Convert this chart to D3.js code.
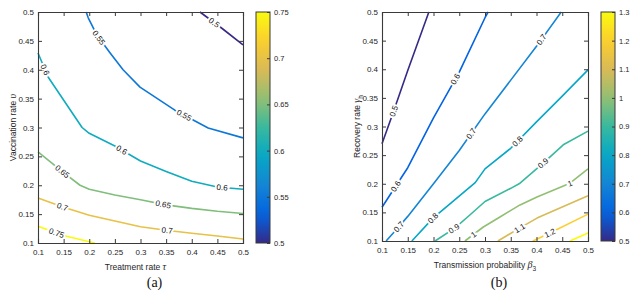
<!DOCTYPE html>
<html>
<head>
<meta charset="utf-8">
<script src="https://cdn.jsdelivr.net/npm/d3@7"></script>
<style>
  body { margin: 0; background: #fff; }
  svg text { font-family: Arial, "Liberation Sans", sans-serif; fill: #262626; }
</style>
</head>
<body>
<svg id="fig" width="637" height="295"></svg>
<script>
// ---------- data ----------
let axisTicks = [0.1, 0.15, 0.2, 0.25, 0.3, 0.35, 0.4, 0.45, 0.5]

// panel (a): treatment rate tau (x) vs vaccination rate v (y)
let leftLevels = [0.5, 0.55, 0.6, 0.65, 0.7, 0.75]
let leftBarTicks = [0.5, 0.55, 0.6, 0.65, 0.7, 0.75]
let leftLines = [
  [[0.416, 0.5], [0.46, 0.471], [0.5, 0.443]],
  [[0.194, 0.5], [0.198, 0.49], [0.215, 0.46], [0.24, 0.43], [0.266, 0.4], [0.299, 0.37], [0.367, 0.33], [0.432, 0.299], [0.5, 0.282]],
  [[0.1, 0.429], [0.12, 0.387], [0.186, 0.3], [0.2, 0.29], [0.25, 0.268], [0.3, 0.242], [0.35, 0.224], [0.4, 0.207], [0.45, 0.197], [0.5, 0.193]],
  [[0.1, 0.258], [0.15, 0.222], [0.182, 0.2], [0.2, 0.193], [0.25, 0.183], [0.3, 0.175], [0.35, 0.166], [0.4, 0.16], [0.45, 0.155], [0.5, 0.151]],
  [[0.1, 0.178], [0.15, 0.162], [0.2, 0.148], [0.25, 0.138], [0.3, 0.128], [0.35, 0.122], [0.4, 0.117], [0.45, 0.112], [0.5, 0.107]],
  [[0.1, 0.129], [0.15, 0.113], [0.2, 0.102], [0.211, 0.1]]
]
let leftLabels = [
  [[0.4415, 0.479]],
  [[0.221, 0.457], [0.383, 0.318]],
  [[0.108, 0.398], [0.264, 0.262], [0.459, 0.195]],
  [[0.147, 0.223], [0.344, 0.166]],
  [[0.147, 0.161], [0.352, 0.121]],
  [[0.137, 0.119]]
]

// panel (b): transmission probability beta3 (x) vs recovery rate gamma_h (y)
let rightLevels = [0.5, 0.6, 0.7, 0.8, 0.9, 1, 1.1, 1.2, 1.3]
let rightBarTicks = [0.5, 0.6, 0.7, 0.8, 0.9, 1, 1.1, 1.2, 1.3]
let rightLines = [
  [[0.1, 0.27], [0.12, 0.32], [0.15, 0.398], [0.191, 0.5]],
  [[0.1, 0.159], [0.15, 0.228], [0.2, 0.315], [0.25, 0.395], [0.3, 0.49], [0.306, 0.5]],
  [[0.108, 0.1], [0.131, 0.123], [0.15, 0.143], [0.2, 0.2], [0.25, 0.258], [0.3, 0.322], [0.35, 0.381], [0.4, 0.44], [0.448, 0.5]],
  [[0.158, 0.1], [0.199, 0.14], [0.236, 0.168], [0.281, 0.202], [0.3, 0.226], [0.35, 0.262], [0.4, 0.308], [0.45, 0.353], [0.5, 0.399]],
  [[0.203, 0.1], [0.242, 0.123], [0.27, 0.145], [0.3, 0.169], [0.35, 0.192], [0.368, 0.201], [0.413, 0.236], [0.452, 0.268], [0.5, 0.292]],
  [[0.261, 0.1], [0.296, 0.124], [0.329, 0.142], [0.368, 0.163], [0.401, 0.177], [0.465, 0.201], [0.5, 0.226]],
  [[0.325, 0.1], [0.368, 0.123], [0.401, 0.14], [0.5, 0.179]],
  [[0.393, 0.1], [0.426, 0.114], [0.5, 0.147]],
  [[0.465, 0.1], [0.5, 0.114]]
]
let rightLabels = [
  [[0.129, 0.325]],
  [[0.131, 0.193], [0.246, 0.381]],
  [[0.135, 0.123], [0.277, 0.285], [0.411, 0.451]],
  [[0.199, 0.14], [0.364, 0.273]],
  [[0.238, 0.124], [0.413, 0.236]],
  [[0.279, 0.11], [0.465, 0.201]],
  [[0.368, 0.121]],
  [[0.426, 0.114]],
  []
]

// parula-like colour map
let parulaStops = [0, 0.125, 0.25, 0.375, 0.5, 0.625, 0.75, 0.875, 1]
let parulaColors = ['#352a87', '#0363e1', '#1485d4', '#06a7c6', '#38b99e', '#92bf73', '#d9ba56', '#fcce2e', '#f9fb0e']
let parula = d3.scaleLinear().domain(parulaStops).range(parulaColors).interpolate(d3.interpolateRgb)

let svg = d3.select('#fig')
let defs = svg.append('defs')
let fmt = (d) => String(+d.toFixed(2))
let serif = '"Liberation Serif", "DejaVu Serif", serif'

// writes a title made of plain / italic / subscript parts
let richText = (sel, parts) => {
  parts.forEach((p) => {
    let t = sel.append('tspan').text(p.t)
    if (p.italic) t.style('font-family', serif).style('font-style', 'italic').style('font-size', '10px')
    if (p.sub) t.style('font-size', '6.5px').attr('dy', 3)
  })
}

let drawPanel = (cfg) => {
  let g = svg.append('g')
  let xScale = d3.scaleLinear().domain([0.1, 0.5]).range([cfg.left, cfg.right])
  let yScale = d3.scaleLinear().domain([0.1, 0.5]).range([cfg.bottom, cfg.top])
  let cScale = (v) => parula((v - cfg.cMin) / (cfg.cMax - cfg.cMin))

  // contour lines
  let line = d3.line().x((d) => xScale(d[0])).y((d) => yScale(d[1]))
  g.append('g').selectAll('path')
    .data(cfg.lines)
    .enter()
    .append('path')
    .attr('d', line)
    .attr('fill', 'none')
    .attr('stroke', (d, i) => cScale(cfg.levels[i]))
    .attr('stroke-width', 1.6)
    .attr('stroke-linejoin', 'round')

  // inline contour labels, rotated along the line
  let labelData = []
  cfg.labels.forEach((pts, i) => {
    let poly = cfg.lines[i].map((d) => [xScale(d[0]), yScale(d[1])])
    pts.forEach((p) => {
      let px = xScale(p[0]), py = yScale(p[1])
      let best = null
      for (let k = 0; k < poly.length - 1; k++) {
        let [ax, ay] = poly[k], [bx, by] = poly[k + 1]
        let dx = bx - ax, dy = by - ay
        let t = Math.max(0, Math.min(1, ((px - ax) * dx + (py - ay) * dy) / (dx * dx + dy * dy)))
        let qx = ax + t * dx, qy = ay + t * dy
        let dist = Math.hypot(px - qx, py - qy)
        if (!best || dist < best.dist) best = { dist, x: qx, y: qy, ang: Math.atan2(dy, dx) * 180 / Math.PI }
      }
      let ang = best.ang
      if (ang > 90) ang -= 180
      if (ang < -90) ang += 180
      labelData.push({ x: best.x, y: best.y, ang, text: fmt(cfg.levels[i]) })
    })
  })
  g.append('g').selectAll('text')
    .data(labelData)
    .enter()
    .append('text')
    .attr('transform', (d) => 'translate(' + d.x + ',' + d.y + ') rotate(' + d.ang + ')')
    .attr('text-anchor', 'middle')
    .attr('dy', '0.35em')
    .attr('font-size', '8px')
    .attr('stroke', '#fff')
    .attr('stroke-width', 4)
    .attr('paint-order', 'stroke')
    .style('fill', '#111')
    .text((d) => d.text)

  // axes with inward ticks on all four sides
  let xAxis = d3.axisBottom(xScale).tickValues(axisTicks).tickFormat(fmt).tickSize(-4).tickPadding(6)
  let yAxis = d3.axisLeft(yScale).tickValues(axisTicks).tickFormat(fmt).tickSize(-4).tickPadding(4)
  let gx = g.append('g').attr('transform', 'translate(0,' + cfg.bottom + ')').call(xAxis)
  let gy = g.append('g').attr('transform', 'translate(' + cfg.left + ',0)').call(yAxis)
  let gt = g.append('g').attr('transform', 'translate(0,' + cfg.top + ')')
    .call(d3.axisTop(xScale).tickValues(axisTicks).tickFormat('').tickSize(-4))
  let gr = g.append('g').attr('transform', 'translate(' + cfg.right + ',0)')
    .call(d3.axisRight(yScale).tickValues(axisTicks).tickFormat('').tickSize(-4))
  ;[gx, gy, gt, gr].forEach((a) => {
    a.selectAll('path.domain').attr('stroke', '#3a3a3a').attr('stroke-width', 1.1)
    a.selectAll('.tick line').attr('stroke', '#3a3a3a')
    a.selectAll('text').attr('font-size', '8px').style('fill', '#262626').attr('font-family', null)
  })

  // axis titles
  let xt = g.append('text')
    .attr('x', (cfg.left + cfg.right) / 2 + cfg.xTitleShift)
    .attr('y', cfg.bottom + 27)
    .attr('text-anchor', 'middle')
    .attr('font-size', '8.5px')
  richText(xt, cfg.xTitle)
  let yt = g.append('text')
    .attr('transform', 'translate(' + cfg.yTitleX + ',' + (cfg.top + cfg.bottom) / 2 + ') rotate(-90)')
    .attr('text-anchor', 'middle')
    .attr('font-size', '8.5px')
  richText(yt, cfg.yTitle)

  // panel tag
  g.append('text')
    .attr('x', (cfg.left + cfg.right) / 2 + 14)
    .attr('y', 287)
    .attr('text-anchor', 'middle')
    .style('font-family', serif)
    .style('font-size', '14px')
    .style('fill', '#111')
    .text(cfg.tag)

  // colour bar
  let gradId = 'grad' + cfg.tag.replace(/\W/g, '')
  let grad = defs.append('linearGradient').attr('id', gradId)
    .attr('x1', 0).attr('y1', 1).attr('x2', 0).attr('y2', 0)
  d3.range(0, 1.0001, 0.05).forEach((t) => {
    grad.append('stop').attr('offset', t).attr('stop-color', parula(t))
  })
  let cbScale = d3.scaleLinear().domain([cfg.cMin, cfg.cMax]).range([cfg.bottom, cfg.top])
  g.append('rect')
    .attr('x', cfg.barX).attr('y', cfg.top)
    .attr('width', cfg.barW).attr('height', cfg.bottom - cfg.top)
    .attr('fill', 'url(#' + gradId + ')')
  let gc = g.append('g').attr('transform', 'translate(' + (cfg.barX + cfg.barW) + ',0)')
    .call(d3.axisRight(cbScale).tickValues(cfg.barTicks).tickFormat(fmt).tickSize(-3).tickPadding(4))
  gc.selectAll('path.domain').remove()
  gc.selectAll('.tick line').attr('stroke', '#3a3a3a')
  gc.selectAll('text').attr('font-size', '7.5px').style('fill', '#262626').attr('font-family', null)
  g.append('rect')
    .attr('x', cfg.barX).attr('y', cfg.top)
    .attr('width', cfg.barW).attr('height', cfg.bottom - cfg.top)
    .attr('fill', 'none').attr('stroke', '#3a3a3a').attr('stroke-width', 1)
}

drawPanel({
  left: 38, right: 243, top: 12, bottom: 243,
  levels: leftLevels, lines: leftLines, labels: leftLabels,
  cMin: 0.5, cMax: 0.75, barTicks: leftBarTicks, barX: 256, barW: 14,
  xTitle: [{ t: 'Treatment rate ' }, { t: 'τ', italic: true }], xTitleShift: -5,
  yTitle: [{ t: 'Vaccination rate ' }, { t: 'υ', italic: true }], yTitleX: 16,
  tag: '(a)'
})

drawPanel({
  left: 382, right: 588, top: 12, bottom: 241,
  levels: rightLevels, lines: rightLines, labels: rightLabels,
  cMin: 0.5, cMax: 1.3, barTicks: rightBarTicks, barX: 601, barW: 14,
  xTitle: [{ t: 'Transmission probability ' }, { t: 'β', italic: true }, { t: '3', sub: true }], xTitleShift: 0,
  yTitle: [{ t: 'Recovery rate ' }, { t: 'γ', italic: true }, { t: 'h', sub: true }], yTitleX: 360,
  tag: '(b)'
})
</script>
</body>
</html>
